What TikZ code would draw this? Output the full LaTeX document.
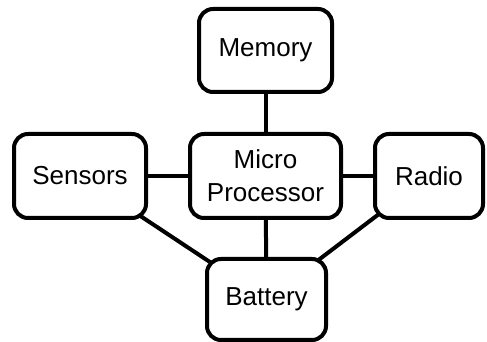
\documentclass[tikz,border=0pt]{standalone}
\usepackage{fontspec}
\setmainfont{Liberation Sans}
\usetikzlibrary{backgrounds}
\tikzset{
  x=1pt, y=1pt,
  unit/.style={draw=black, fill=white, line width=4pt, rounded corners=14pt,
    inner sep=0pt, align=center, font=\fontsize{26}{33}\selectfont},
  link/.style={draw=black, line width=4pt}
}
\begin{document}
\begin{tikzpicture}
  \useasboundingbox (0,0) rectangle (487,342);
  % blocks (y measured from the bottom edge)
  \node[unit, minimum width=133pt, minimum height=83pt] (memory) at (265.5,291.5) {Memory};
  \node[unit, minimum width=132pt, minimum height=84pt] (sensors) at (80,166) {Sensors};
  \node[unit, minimum width=151pt, minimum height=84pt] (cpu) at (265.5,166) {Micro\\Processor};
  \node[unit, minimum width=108pt, minimum height=84pt] (radio) at (429,166) {Radio};
  \node[unit, minimum width=119pt, minimum height=81pt] (battery) at (266.5,42.5) {Battery};
  % wiring behind the blocks
  \begin{scope}[on background layer]
    \draw[link] (memory.center) -- (cpu.center);
    \draw[link] (sensors.center) -- (cpu.center);
    \draw[link] (cpu.center) -- (radio.center);
    \draw[link] (cpu.center) -- (battery.center);
    \draw[link] (sensors.center) -- (battery.center);
    \draw[link] (radio.center) -- (battery.center);
  \end{scope}
\end{tikzpicture}
\end{document}
